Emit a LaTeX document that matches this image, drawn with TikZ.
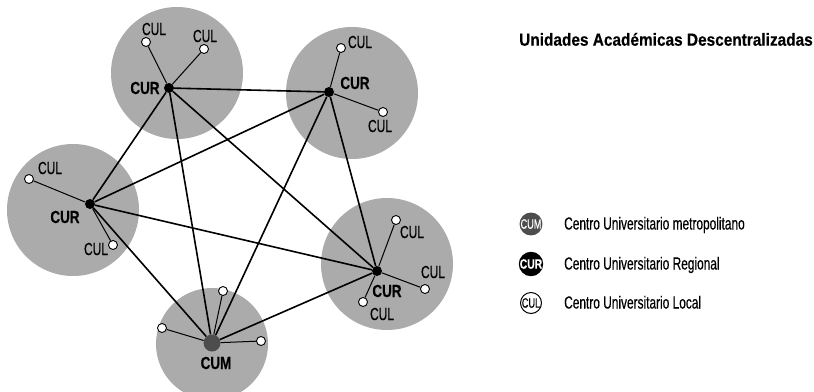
\documentclass[tikz,border=0pt]{standalone}
\usepackage{fontspec}
\setmainfont{Liberation Sans}[FakeStretch=0.68, FakeBold=0.4, BoldFeatures={FakeStretch=0.77, FakeBold=0.3}]
\newfontfamily\titlefont{Liberation Sans}[FakeStretch=0.88, BoldFeatures={FakeBold=0.4}]
\definecolor{regiongray}{HTML}{ABABAB}
\definecolor{cumgray}{HTML}{4D4D4D}
\begin{document}
\begin{tikzpicture}[x=1pt,y=-1pt,
  region/.style={circle, fill=regiongray, inner sep=0, minimum size=132pt},
  curdot/.style={circle, fill=black, inner sep=0, minimum size=10pt},
  culdot/.style={circle, draw=black, fill=white, line width=0.9pt, inner sep=0, minimum size=9pt},
  cumdot/.style={circle, fill=cumgray, inner sep=0, minimum size=17pt},
  lbl/.style={font=\fontsize{17.5}{20}\selectfont, inner sep=0},
  blbl/.style={font=\fontsize{17.5}{20}\selectfont\bfseries, inner sep=0},
  link/.style={line width=1.6pt},
  sublink/.style={line width=1pt},
  legdot/.style={circle, inner sep=0, minimum size=21pt, font=\fontsize{13.5}{15}\selectfont},
  legtext/.style={font=\fontsize{17.5}{20}\selectfont, inner sep=0, anchor=base west},
]
\useasboundingbox (0,0) rectangle (814,391);
\clip (0,0) rectangle (814,391);
% regions
\node[region] (gTL) at (177,73) {};
\node[region] (gTR) at (352,93) {};
\node[region] (gL) at (73,210) {};
\node[region, minimum size=112pt] (gB) at (212,344) {};
\node[region] (gR) at (387,264) {};
% main centres
\node[curdot] (tl) at (169,88) {};
\node[curdot] (tr) at (329,92) {};
\node[curdot] (l) at (90,204) {};
\node[curdot] (r) at (377,271) {};
\node[cumdot] (b) at (212,343) {};
% local centres
\node[culdot] (c1) at (146,42) {};
\node[culdot] (c2) at (204,49) {};
\node[culdot] (c3) at (341,48) {};
\node[culdot] (c4) at (383,112) {};
\node[culdot] (c5) at (29,179) {};
\node[culdot] (c6) at (113,245) {};
\node[culdot] (c7) at (223,291) {};
\node[culdot] (c8) at (162,328) {};
\node[culdot] (c9) at (261,341) {};
\node[culdot] (c10) at (396,220) {};
\node[culdot] (c11) at (425,289) {};
\node[culdot] (c12) at (363,302) {};
% links between main centres
\draw[link] (tl) -- (tr);
\draw[link] (tl) -- (l);
\draw[link] (tl) -- (b);
\draw[link] (tl) -- (r);
\draw[link] (tr) -- (l);
\draw[link] (tr) -- (b);
\draw[link] (tr) -- (r);
\draw[link] (l) -- (r);
\draw[link] (l) -- (b);
\draw[link] (r) -- (b);
% local links
\draw[sublink] (tl) -- (c1);
\draw[sublink] (tl) -- (c2);
\draw[sublink] (tr) -- (c3);
\draw[sublink] (tr) -- (c4);
\draw[sublink] (l) -- (c5);
\draw[sublink] (l) -- (c6);
\draw[sublink] (b) -- (c7);
\draw[sublink] (b) -- (c8);
\draw[sublink] (b) -- (c9);
\draw[sublink] (r) -- (c10);
\draw[sublink] (r) -- (c11);
\draw[sublink] (r) -- (c12);
% labels
\node[lbl] (t1) at (154,29) {CUL};
\node[lbl] (t2) at (205,36) {CUL};
\node[lbl] (t3) at (360,42) {CUL};
\node[lbl] (t4) at (380,126) {CUL};
\node[lbl] (t5) at (50,168) {CUL};
\node[lbl] (t6) at (96,249) {CUL};
\node[lbl] (t7) at (412,232) {CUL};
\node[lbl] (t8) at (433,272) {CUL};
\node[lbl] (t9) at (382,314) {CUL};
\node[blbl] (u1) at (145,88) {CUR};
\node[blbl] (u2) at (355,83) {CUR};
\node[blbl] (u3) at (65,217) {CUR};
\node[blbl] (u4) at (387,291) {CUR};
\node[blbl] (u5) at (216,363) {CUM};
% legend
\node[inner sep=0, anchor=base west, font=\fontsize{17.5}{20}\titlefont\bfseries] (title) at (519,45.7) {Unidades Académicas Descentralizadas};
\node[legdot, fill=cumgray, text=white] (k1) at (531,224) {CUM};
\node[legdot, fill=black, text=white, font=\fontsize{13.5}{15}\selectfont\bfseries] (k2) at (531,264) {CUR};
\node[legdot, fill=white, draw=black, line width=1pt] (k3) at (531,303) {CUL};
\node[legtext] (d1) at (564,229.5) {Centro Universitario metropolitano};
\node[legtext] (d2) at (564,269.5) {Centro Universitario Regional};
\node[legtext] (d3) at (564,308.5) {Centro Universitario Local};
\end{tikzpicture}
\end{document}
